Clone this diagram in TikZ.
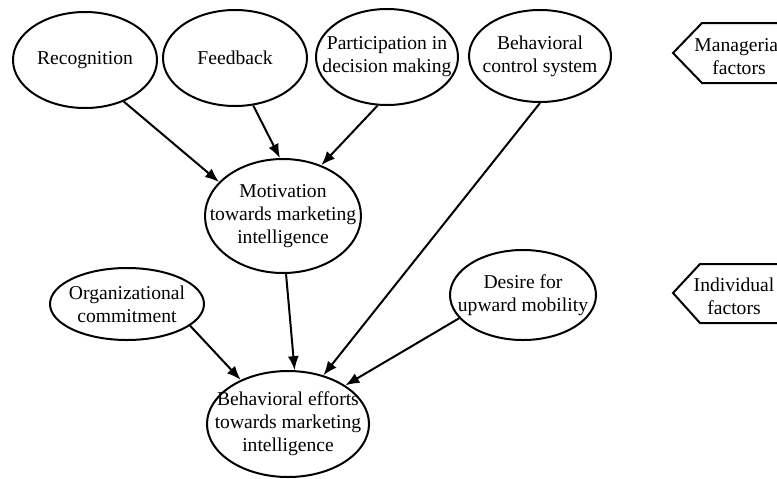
\documentclass[tikz,border=0pt]{standalone}
\usepackage{fontspec}
\setmainfont{Liberation Serif}
\usepackage{tikz}
\usetikzlibrary{shapes.geometric,arrows.meta}

\tikzset{
  factor/.style={ellipse, draw, line width=1pt, inner sep=-30pt, align=center,
    font=\fontsize{9.8}{11.5}\selectfont},
  flow/.style={line width=1pt, -{Latex[length=7pt,width=5.5pt]}},
  tagtext/.style={align=center, inner sep=0pt, font=\fontsize{9.8}{11.5}\selectfont}
}

\begin{document}
\begin{tikzpicture}[x=0.5pt,y=-0.5pt]
        \useasboundingbox (0,0) rectangle (777,478);
        % top row of factors
        \node[factor, minimum width=72pt, minimum height=48pt] (recog) at (85,60) {Recognition};
        \node[factor, minimum width=72pt, minimum height=48pt] (feedb) at (235,58) {Feedback};
        \node[factor, minimum width=71pt, minimum height=48pt] (partic) at (387,57) {Participation in\\decision making};
        \node[factor, minimum width=71pt, minimum height=46pt] (behctrl) at (540,56) {Behavioral\\control system};
        % motivation in the middle
        \node[factor, minimum width=78pt, minimum height=57pt] (motiv) at (283,216) {Motivation\\towards marketing\\intelligence};
        % individual factors
        \node[factor, minimum width=77pt, minimum height=36pt] (orgcom) at (127,304) {Organizational\\commitment};
        \node[factor, minimum width=73pt, minimum height=45pt] (desire) at (523,295) {Desire for\\upward mobility};
        % outcome at the bottom
        \node[factor, minimum width=81pt, minimum height=53pt] (effort) at (288,424) {Behavioral efforts\\towards marketing\\intelligence};

        % arrows into motivation
        \draw[flow] (recog.-47) -- (motiv.152);
        \draw[flow] (feedb.-69) -- (motiv.93);
        \draw[flow] (partic.-101) -- (motiv.53);
        % arrows into efforts
        \draw[flow] (behctrl.-90) -- (effort.54);
        \draw[flow] (motiv.-87) -- (effort.83);
        \draw[flow] (orgcom.-19) -- (effort.137);
        \draw[flow] (desire.200) -- (effort.34);

        % side tags
        \draw[line width=1pt] (800,23) -- (702,23) -- (673,53) -- (702,83) -- (800,83);
        \node[tagtext] (mantag) at (739,56) {Managerial\\factors};
        \draw[line width=1pt] (800,264) -- (700,264) -- (673,293) -- (700,323) -- (800,323);
        \node[tagtext] (indtag) at (734,296) {Individual\\factors};
\end{tikzpicture}
\end{document}
